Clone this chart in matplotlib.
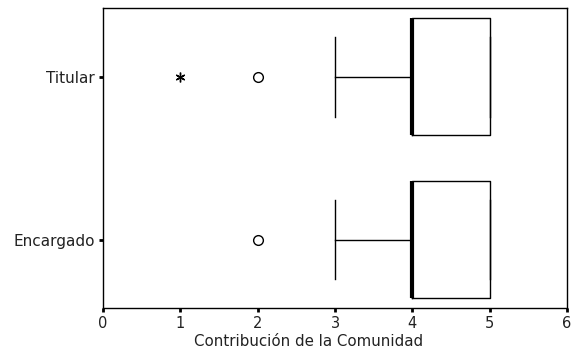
import numpy as np
import matplotlib.pyplot as plt

plt.rcParams['font.family'] = ['DejaVu Sans']

groups = ['Encargado', 'Titular']
q1 = [4, 4]
med = [4, 4]
q3 = [5, 5]
whis_lo = [3, 3]
whis_hi = [5, 5]
outliers = [[2], [2]]      # circles
extremes = [[], [1]]       # asterisks

stats = []
for i, g in enumerate(groups):
    stats.append(dict(label=g, q1=q1[i], med=med[i], q3=q3[i],
                      whislo=whis_lo[i], whishi=whis_hi[i], fliers=[]))

fig = plt.figure(figsize=(5.71, 3.54), dpi=100)
ax = fig.add_axes([0.1804, 0.130, 0.8126, 0.847])

pos = np.arange(1, len(groups) + 1)
ax.bxp(stats, positions=pos, vert=False, widths=0.72, capwidths=0.49,
       showfliers=False,
       boxprops=dict(color='black', linewidth=1.0),
       whiskerprops=dict(color='black', linewidth=1.0),
       capprops=dict(color='black', linewidth=1.0),
       medianprops=dict(color='black', linewidth=3.0))

for p, vals in zip(pos, outliers):
    ax.plot(vals, [p] * len(vals), linestyle='none', marker='o', markersize=7,
            markerfacecolor='white', markeredgecolor='black', markeredgewidth=1.0)
for p, vals in zip(pos, extremes):
    ax.plot(vals, [p] * len(vals), linestyle='none', marker=(6, 2, 0), markersize=7,
            color='black', markeredgewidth=1.0)

ax.set_xlim(0, 6)
ax.set_ylim(0.58, 2.42)
ax.set_xticks(range(0, 7))
ax.set_yticks(pos)
ax.set_yticklabels(groups)
ax.tick_params(axis='y', labelsize=11)
ax.tick_params(direction='out', length=3, width=2, pad=3, labelcolor='#222222')
ax.tick_params(axis='x', labelsize=10.5)
ax.set_xlabel('Contribución de la Comunidad', fontsize=10.8, color='#222222',
              va='center')
ax.xaxis.set_label_coords(0.444, -0.113)
for s in ax.spines.values():
    s.set_linewidth(1.0)

fig.savefig('out.png', dpi=100)
